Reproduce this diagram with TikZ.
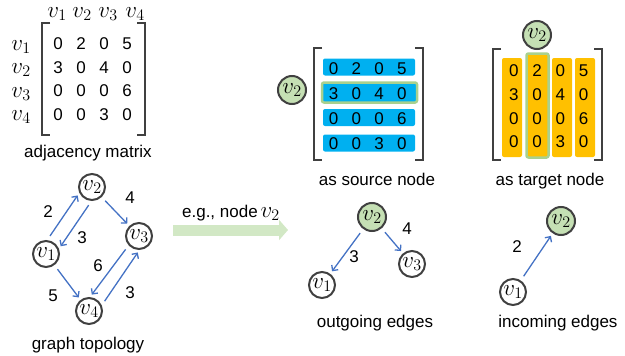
\documentclass[tikz,border=0pt]{standalone}
\usepackage{fix-cm}
\usepackage{fontspec}
\setmainfont{Liberation Sans}
\usetikzlibrary{arrows.meta}
\definecolor{vgreen}{HTML}{C5E0B4}
\definecolor{hgreen}{HTML}{A9D18E}
\definecolor{agreen}{HTML}{D2E8C5}
\definecolor{eblue}{HTML}{4472C4}
\definecolor{rowblue}{HTML}{00B0F0}
\definecolor{colorange}{HTML}{FFC000}
\definecolor{dgray}{HTML}{404040}
\newcommand\vx[1]{{\fontsize{23pt}{23pt}\selectfont$v_{#1}$}}
\tikzset{
   vert/.style={circle,draw=dgray,line width=2pt,minimum size=26pt,inner sep=0pt},
   hvert/.style={vert,fill=vgreen,minimum size=28pt},
   edge/.style={-{Straight Barb[length=4pt,width=8pt]},eblue,line width=1.3pt,
      shorten <=5pt,shorten >=3pt},
   bigarrow/.style={-{Triangle[length=9pt,width=20pt]},agreen,line width=11pt},
   brk/.style={dgray,line width=2.5pt},
   num/.style={inner sep=0pt},
   lbl/.style={anchor=base},
   rowbar/.style={fill=rowblue,rounded corners=2pt,minimum width=92pt,minimum height=17pt,inner sep=0pt},
   colbar/.style={fill=colorange,rounded corners=2pt,minimum width=20pt,minimum height=99pt,inner sep=0pt},
 }
\begin{document}
\begin{tikzpicture}[x=1pt,y=-1pt,font=\fontsize{17pt}{20pt}\selectfont]
      \useasboundingbox (0,0) rectangle (625,356);

      % adjacency matrix
      \foreach \x [count=\i] in {57,82,108,135}
         \node[lbl,inner sep=0pt] (c\i) at (\x,17) {\vx{\i}};
      \foreach \i in {1,...,4}
         \node[lbl,inner sep=0pt] (r\i) at (21,{26.5+23.5*\i}) {\vx{\i}};
      \foreach \row [count=\i] in {{0,2,0,5},{3,0,4,0},{0,0,0,6},{0,0,3,0}} {
         \foreach \val [count=\j] in \row
            \node[num] (a-\i-\j) at ({35+23*\j},{20.5+23.5*\i}) {\val};
      }
      \draw [brk] (50,23) -- (42,23) -- (42,135) -- (50,135);
      \draw [brk] (137,23) -- (145,23) -- (145,135) -- (137,135);
      \node[lbl] (adj) at (88,157) {adjacency matrix};

      % graph topology
      \node (t1) at (46,254) [vert] {\vx1};
      \node (t2) at (92,187) [vert] {\vx2};
      \node (t3) at (139,236) [vert] {\vx3};
      \node (t4) at (89,311) [vert] {\vx4};
      \draw [edge] (t1.85) to (t2.205);
      \draw [edge] (t2.268) to (t1.22);
      \draw [edge] (t2) to (t3);
      \draw [edge] (t3.222) to (t4.86);
      \draw [edge] (t4.24) to (t3.272);
      \draw [edge] (t1) to (t4);
      \node[num] (w12) at (48,212) {2};
      \node[num] (w21) at (82,238) {3};
      \node[num] (w23) at (130,198) {4};
      \node[num] (w34) at (98,266) {6};
      \node[num] (w14) at (53,296) {5};
      \node[num] (w43) at (130,293) {3};
      \node[lbl] (topo) at (88,349) {graph topology};

      % example arrow
      \coordinate (go-a) at (173,230);
      \coordinate (go-b) at (288,230);
      \draw [bigarrow] (go-a) -- (go-b);
      \node[lbl] (eg) at (231,217) {e.g., node\,\vx2};

      % as source node
      \node (s2) at (292,90) [hvert] {\vx2};
      \foreach \y [count=\i] in {67,93,117.5,143} {
         \node[rowbar] (sr\i) at (369,\y) {};
      }
      \node[rowbar,draw=hgreen,line width=2.5pt,minimum width=95pt,minimum height=20pt] (sr2) at (369.5,92.5) {};
      \foreach \row [count=\i] in {{0,2,0,5},{3,0,4,0},{0,0,0,6},{0,0,3,0}} {
         \foreach \val [count=\j] in \row
            \node[num] (s-\i-\j) at ({311+22.7*\j},{43.5+25*\i}) {\val};
      }
      \draw [brk] (322,48) -- (314,48) -- (314,160) -- (322,160);
      \draw [brk] (415,48) -- (423,48) -- (423,160) -- (415,160);
      \node[lbl] (src) at (377,185) {as source node};

      % as target node
      \node (g2) at (537,35) [hvert] {\vx2};
      \foreach \x [count=\j] in {512,537.5,562,585} {
         \node[colbar] (tc\j) at (\x,107.5) {};
      }
      \node[colbar,draw=hgreen,line width=2.5pt,minimum width=22pt,minimum height=104pt] (tc2) at (537.5,105.5) {};
      \foreach \row [count=\i] in {{0,2,0,5},{3,0,4,0},{0,0,0,6},{0,0,3,0}} {
         \foreach \val [count=\j] in \row
            \node[num] (g-\i-\j) at ({490.5+23.3*\j},{47.3+23.7*\i}) {\val};
      }
      \draw [brk] (501,49) -- (493,49) -- (493,160) -- (501,160);
      \draw [brk] (594,49) -- (602,49) -- (602,160) -- (594,160);
      \node[lbl] (tgt) at (550,185) {as target node};

      % outgoing edges
      \node (o2) at (372,217) [hvert] {\vx2};
      \node (o1) at (322,285) [vert] {\vx1};
      \node (o3) at (412,264) [vert] {\vx3};
      \draw [edge] (o2) to (o1);
      \draw [edge] (o2) to (o3);
      \node[num] (ow21) at (354,257) {3};
      \node[num] (ow23) at (407,229) {4};
      \node[lbl] (out) at (375,327) {outgoing edges};

      % incoming edges
      \node (i2) at (561,221) [hvert] {\vx2};
      \node (i1) at (513,292) [vert] {\vx1};
      \draw [edge] (i1) to (i2);
      \node[num] (iw12) at (517,247) {2};
      \node[lbl] (inc) at (558,327) {incoming edges};
    \end{tikzpicture}
\end{document}
